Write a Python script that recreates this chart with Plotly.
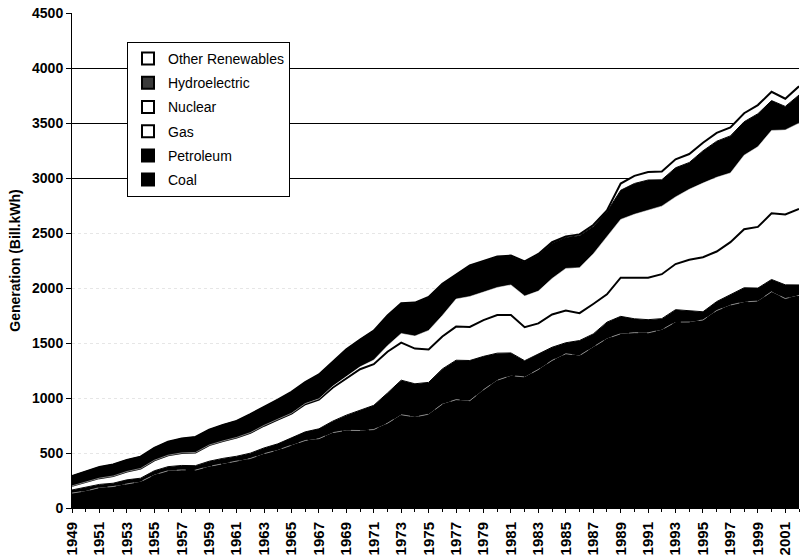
import plotly.graph_objects as go

# U.S. electricity generation by source, billion kWh
years = list(range(1949, 2003))

coal = [135.5, 154.5, 185.2, 195.4, 218.8, 239.1, 301.4, 338.5, 346.4, 344.4,
        378.4, 403.1, 421.9, 450.2, 493.9, 526.2, 570.9, 613.5, 630.5, 684.9,
        706.0, 704.4, 713.1, 771.1, 847.7, 828.4, 852.8, 944.4, 985.2, 975.7,
        1075.0, 1161.6, 1203.2, 1192.0, 1259.4, 1341.7, 1402.1, 1385.8, 1463.8, 1540.7,
        1583.8, 1594.0, 1592.3, 1621.2, 1690.1, 1690.7, 1709.4, 1795.2, 1845.0, 1873.5,
        1881.1, 1966.3, 1904.0, 1933.1]

petroleum = [28.5, 33.7, 29.3, 29.9, 37.1, 31.8, 37.1, 37.3, 40.5, 40.4,
             46.9, 48.0, 48.5, 48.3, 52.0, 57.0, 64.8, 78.7, 89.3, 104.3,
             138.3, 184.2, 220.2, 274.3, 314.3, 300.9, 289.1, 320.0, 358.2, 365.1,
             303.5, 246.0, 206.4, 146.8, 144.5, 119.8, 100.2, 136.6, 118.5, 148.9,
             158.3, 126.5, 119.8, 100.2, 112.8, 105.9, 74.6, 81.4, 92.6, 128.8,
             118.1, 111.2, 124.9, 94.6]

gas = [37.0, 44.6, 57.0, 65.4, 76.0, 88.6, 95.3, 104.1, 114.1, 120.1,
       147.0, 158.0, 169.3, 184.3, 202.0, 220.0, 221.6, 251.2, 264.8, 304.4,
       333.3, 372.9, 374.0, 375.7, 340.9, 320.1, 299.8, 294.6, 305.5, 305.4,
       329.5, 346.2, 345.8, 305.3, 274.1, 297.4, 291.9, 248.5, 272.6, 252.8,
       352.0, 372.8, 381.6, 404.1, 414.9, 460.2, 496.1, 455.1, 479.4, 531.3,
       556.4, 601.0, 639.1, 691.0]

nuclear = [0, 0, 0, 0, 0, 0, 0, 0, 0.01, 0.17,
           0.19, 0.52, 1.69, 2.27, 3.21, 3.34, 3.66, 5.52, 7.66, 12.5,
           13.9, 21.8, 38.1, 54.1, 83.5, 114.0, 172.5, 191.1, 250.9, 276.4,
           255.2, 251.1, 272.7, 282.8, 293.7, 327.6, 383.7, 414.0, 455.3, 527.0,
           529.4, 576.9, 612.6, 618.8, 610.3, 640.4, 673.4, 674.7, 628.6, 673.7,
           728.3, 753.9, 768.8, 780.1]

hydro = [89.7, 95.9, 100.9, 104.9, 105.2, 107.2, 113.0, 122.0, 130.0, 140.2,
         138.6, 145.8, 150.4, 168.0, 165.8, 177.1, 193.9, 194.8, 221.5, 222.5,
         250.2, 247.5, 266.3, 272.6, 272.1, 301.0, 300.0, 283.7, 220.5, 280.4,
         279.8, 276.0, 260.7, 309.2, 332.1, 321.2, 281.1, 290.8, 249.7, 222.9,
         265.1, 279.9, 275.5, 239.6, 265.1, 243.7, 293.7, 328.0, 337.2, 304.4,
         299.9, 271.3, 213.7, 255.6]

other = [0.4, 0.4, 0.4, 0.3, 0.3, 0.3, 0.3, 0.3, 0.3, 0.3,
         0.3, 0.4, 0.5, 0.7, 0.8, 0.8, 0.8, 0.9, 1.1, 1.1,
         1.2, 1.1, 1.3, 2.3, 2.5, 3.0, 3.5, 3.7, 3.9, 3.4,
         4.0, 6.0, 6.0, 5.1, 6.1, 8.6, 10.5, 11.7, 12.3, 12.0,
         61.0, 69.0, 72.0, 75.0, 77.0, 77.0, 74.0, 76.0, 77.0, 77.0,
         79.0, 80.0, 70.0, 79.0]

year_ticks = list(range(1949, 2002, 2))
y_ticks = list(range(0, 4501, 500))
major_grid = [3000, 3500, 4000]

FONT = "Liberation Sans, Arial, sans-serif"

# stacking order bottom -> top, with fill and edge styling per layer
layers = [
    ("Coal", coal, "black", dict(color="#9a9a9a", width=0.8, dash="dash")),
    ("Petroleum", petroleum, "black", dict(color="black", width=1)),
    ("Gas", gas, "white", dict(color="black", width=2)),
    ("Nuclear", nuclear, "white", dict(color="white", width=0.5)),
    ("Hydroelectric", hydro, "black", dict(color="black", width=1)),
    ("Other Renewables", other, "white", dict(color="black", width=2)),
]

fig = go.Figure()
for name, vals, fillc, line in layers:
    fig.add_trace(go.Scatter(
        x=years, y=vals, name=name, mode="lines",
        stackgroup="gen", fillcolor=fillc, line=line,
        showlegend=False, hoverinfo="skip",
    ))

# legend entries: square swatches, listed top layer first
swatches = [
    ("Other Renewables", "white"),
    ("Hydroelectric", "#3a3a3a"),
    ("Nuclear", "white"),
    ("Gas", "white"),
    ("Petroleum", "black"),
    ("Coal", "black"),
]
for name, col in swatches:
    fig.add_trace(go.Scatter(
        x=[None], y=[None], mode="markers", name=name, legendgroup=name,
        marker=dict(symbol="square", size=10, color=col,
                    line=dict(color="black", width=1.2)),
        yaxis="y2",
    ))

fig.update_layout(
    width=805, height=560,
    margin=dict(l=72, r=6, t=13, b=52),
    paper_bgcolor="white", plot_bgcolor="white",
    font=dict(family=FONT, size=13, color="black"),
    showlegend=True,
    legend=dict(
        x=(127 - 72) / 727, y=(508 - 42) / 495, xanchor="left", yanchor="top",
        bgcolor="white", bordercolor="black", borderwidth=1,
        font=dict(family=FONT, size=14, color="black"),
        traceorder="grouped", tracegroupgap=3,
        itemsizing="constant",
    ),
    xaxis=dict(
        range=[1949, 2002], tickmode="array", tickvals=year_ticks,
        ticktext=[str(y) for y in year_ticks], tickangle=-90,
        ticks="outside", ticklen=4, tickcolor="black",
        minor=dict(dtick=1, tick0=1949, ticks="outside", ticklen=3, tickcolor="black"),
        showline=True, linecolor="black", linewidth=1,
        showgrid=False, zeroline=False, ticklabelstandoff=3, automargin=False,
        tickfont=dict(family=FONT, size=15, color="black", weight="bold"),
    ),
    yaxis=dict(
        range=[0, 4500], tickmode="array", tickvals=y_ticks,
        ticks="outside", ticklen=5, tickcolor="black",
        showline=True, linecolor="black", linewidth=1,
        showgrid=True, gridcolor="#e6e6e6", griddash="dot", gridwidth=1,
        zeroline=False, automargin=False,
        tickfont=dict(family=FONT, size=14, color="black", weight="bold"),
        title=dict(text="Generation (Bill.kWh)", standoff=8,
                   font=dict(family=FONT, size=14, color="black", weight="bold")),
    ),
    yaxis2=dict(
        overlaying="y", range=[0, 4500], tickmode="array", tickvals=major_grid,
        showticklabels=False, ticks="", showline=False, zeroline=False,
        showgrid=True, gridcolor="black", gridwidth=1,
    ),
)

fig.write_html("out.html")
